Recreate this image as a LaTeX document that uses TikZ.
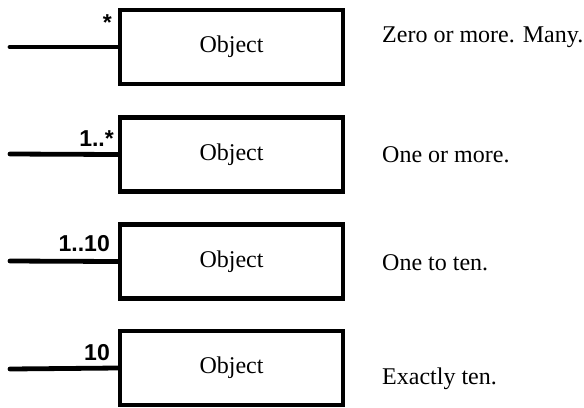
\documentclass[tikz,border=0pt]{standalone}
\usepackage{fontspec}
\setmainfont{Liberation Serif}
\newfontfamily\labelfont{Liberation Sans}
\begin{document}
\begin{tikzpicture}[x=1bp,y=-1bp,
  objbox/.style={draw, line width=4.8bp, minimum width=223bp, minimum height=74bp, inner sep=0pt, font=\fontsize{24bp}{26bp}\selectfont},
  conn/.style={line width=4.8bp, line cap=round},
  mult/.style={font=\labelfont\bfseries\fontsize{23bp}{25bp}\selectfont, anchor=east, inner sep=0pt},
  desc/.style={font=\fontsize{24bp}{26bp}\selectfont, anchor=west, inner sep=0pt}]
\useasboundingbox (0,0) rectangle (584,407);
% row 1
\node[objbox] (o1) at (231.5,47) {Object};
\coordinate (s1) at (10,47);
\draw[conn] (s1) -- (o1.west);
\node[mult] (m1) at (112,23) {*};
\node[desc] (d1) at (382,37) {Zero or more. Many.};
% row 2
\node[objbox] (o2) at (231.5,154.5) {Object};
\coordinate (s2) at (10,154);
\draw[conn] (s2) -- (o2.west);
\node[mult] (m2) at (114,139) {1..*};
\node[desc] (d2) at (382,155) {One or more.};
% row 3
\node[objbox] (o3) at (231.5,261.5) {Object};
\coordinate (s3) at (10,261);
\draw[conn] (s3) -- (o3.west);
\node[mult] (m3) at (110,244) {1..10};
\node[desc] (d3) at (382,263) {One to ten.};
% row 4
\node[objbox] (o4) at (231.5,368) {Object};
\coordinate (s4) at (10,369);
\draw[conn] (s4) -- (o4.west);
\node[mult] (m4) at (110,353) {10};
\node[desc] (d4) at (382,379) {Exactly ten.};
\end{tikzpicture}
\end{document}
